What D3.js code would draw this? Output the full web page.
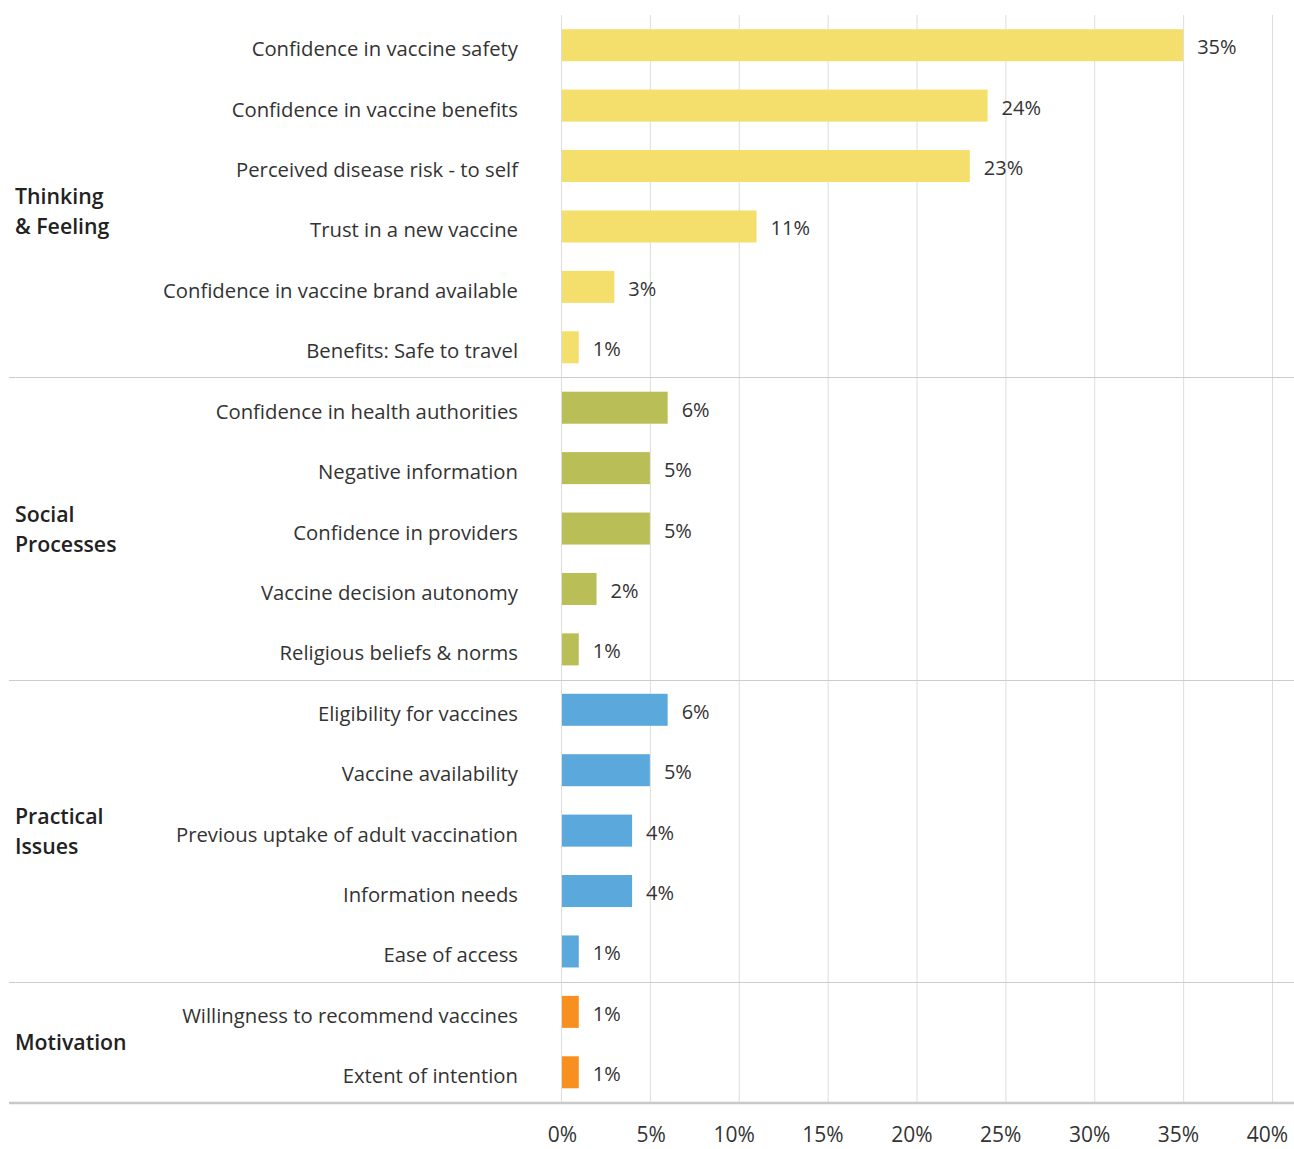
<!DOCTYPE html>
<html>
<head>
<meta charset="utf-8">
<script src="https://cdn.jsdelivr.net/npm/d3@7"></script>
<style>
  html, body { margin: 0; padding: 0; background: #fff; }
  svg { display: block; font-family: "Open Sans", "Noto Sans", sans-serif; }
</style>
</head>
<body>
<svg id="chart" width="1294" height="1149"></svg>
<script>
// Reasons given, grouped by driver domain
const categories = [
  "Confidence in vaccine safety",
  "Confidence in vaccine benefits",
  "Perceived disease risk - to self",
  "Trust in a new vaccine",
  "Confidence in vaccine brand available",
  "Benefits: Safe to travel",
  "Confidence in health authorities",
  "Negative information",
  "Confidence in providers",
  "Vaccine decision autonomy",
  "Religious beliefs & norms",
  "Eligibility for vaccines",
  "Vaccine availability",
  "Previous uptake of adult vaccination",
  "Information needs",
  "Ease of access",
  "Willingness to recommend vaccines",
  "Extent of intention"
];
const values = [35, 24, 23, 11, 3, 1, 6, 5, 5, 2, 1, 6, 5, 4, 4, 1, 1, 1];
const groupOf = [0, 0, 0, 0, 0, 0, 1, 1, 1, 1, 1, 2, 2, 2, 2, 2, 3, 3];
const groupNames = [["Thinking", "& Feeling"], ["Social", "Processes"], ["Practical", "Issues"], ["Motivation"]];
const groupColors = ["#F4DF6D", "#B9BE56", "#5BA8DD", "#F7901E"];
const xTicks = [0, 5, 10, 15, 20, 25, 30, 35, 40];

const svg = d3.select("#chart");
const plot = { left: 561, right: 1272, top: 15, bottom: 1102.5 };

const x = d3.scaleLinear().domain([0, 40]).range([plot.left, plot.right]);
const y = d3.scaleBand().domain(categories).range([plot.top, plot.bottom])
  .paddingInner(0.47).paddingOuter(0.235);
const step = y.step();
const mid = d => y(d) + y.bandwidth() / 2;

// vertical gridlines
svg.append("g").selectAll("line").data(xTicks).join("line")
  .attr("x1", d => x(d) + 0.5).attr("x2", d => x(d) + 0.5)
  .attr("y1", plot.top).attr("y2", plot.bottom)
  .attr("stroke", "#dddddd").attr("stroke-width", 1);

// bars
svg.append("g").selectAll("rect").data(categories).join("rect")
  .attr("x", x(0) + 1)
  .attr("y", d => y(d))
  .attr("width", (d, i) => x(values[i]) - x(0) - 1)
  .attr("height", y.bandwidth())
  .attr("fill", (d, i) => groupColors[groupOf[i]]);

// value labels
svg.append("g").selectAll("text").data(categories).join("text")
  .attr("x", (d, i) => x(values[i]) + 14)
  .attr("y", d => mid(d) + 9)
  .attr("font-size", 20)
  .attr("fill", "#333")
  .text((d, i) => values[i] + "%");

// category labels
svg.append("g").selectAll("text").data(categories).join("text")
  .attr("x", 518)
  .attr("y", d => mid(d) + 11)
  .attr("text-anchor", "end")
  .attr("font-size", 20.3)
  .attr("fill", "#333")
  .text(d => d);

// group separators and group labels
const groupIdx = d3.range(groupNames.length);
const firstOf = g => groupOf.indexOf(g);
const sepY = groupIdx.slice(1).map(g => y(categories[firstOf(g)]) - (step - y.bandwidth()) / 2);

svg.append("g").selectAll("line").data(sepY).join("line")
  .attr("x1", 9).attr("x2", 1294)
  .attr("y1", d => Math.round(d) + 0.5).attr("y2", d => Math.round(d) + 0.5)
  .attr("stroke", "#cccccc").attr("stroke-width", 1);

// baseline
svg.append("line")
  .attr("x1", 9).attr("x2", 1294)
  .attr("y1", plot.bottom + 0.5).attr("y2", plot.bottom + 0.5)
  .attr("stroke", "#c8c8c8").attr("stroke-width", 2.5);

const groupTop = g => g === 0 ? mid(categories[0]) : sepY[g - 1];
const groupBottom = g => g === groupNames.length - 1 ? plot.bottom : sepY[g];

const gl = svg.append("g").selectAll("text").data(groupIdx).join("text")
  .attr("font-size", 21.3)
  .attr("font-weight", 600)
  .attr("fill", "#222")
  .attr("transform", g => {
    const m = (groupTop(g) + groupBottom(g)) / 2;
    const n = groupNames[g].length;
    return `translate(0,${m - (n - 1) * 15 + 8})`;
  });
gl.selectAll("tspan").data(g => groupNames[g]).join("tspan")
  .attr("x", 15)
  .attr("y", (d, i) => i * 30)
  .text(d => d);

// x axis tick labels
svg.append("g").selectAll("text").data(xTicks).join("text")
  .attr("x", d => x(d) + 16)
  .attr("y", 1142)
  .attr("text-anchor", "end")
  .attr("font-size", 21)
  .attr("fill", "#333")
  .text(d => d + "%");
</script>
</body>
</html>
